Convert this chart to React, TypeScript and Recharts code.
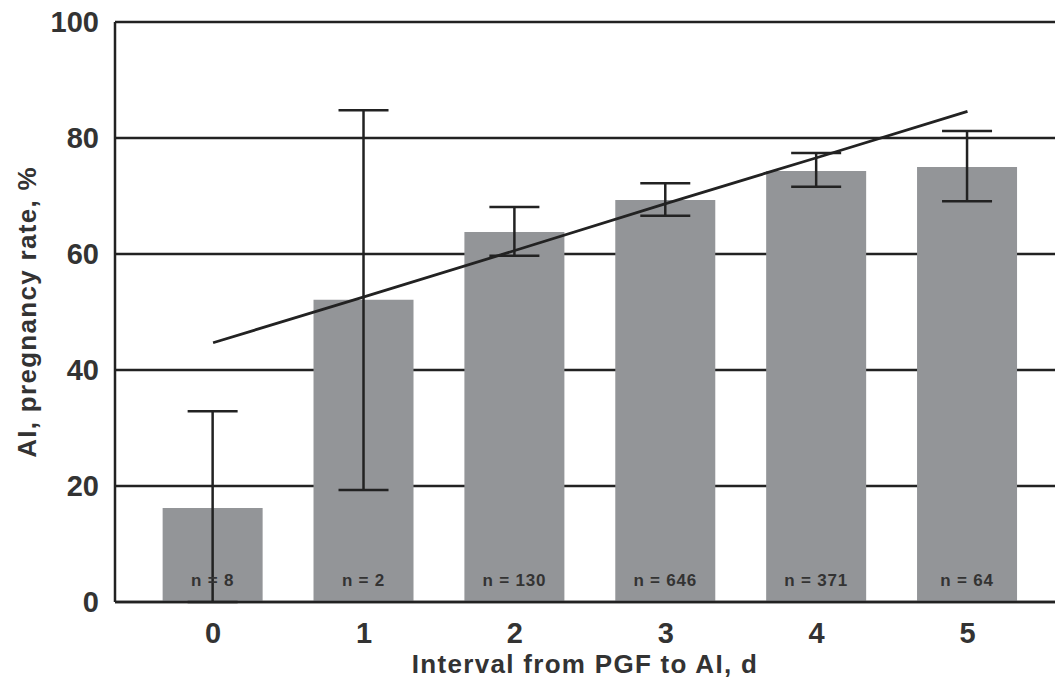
import { ComposedChart, XAxis, YAxis, CartesianGrid, Bar, Line, ErrorBar, LabelList, Label } from 'recharts'

const intervals = [0, 1, 2, 3, 4, 5]
const rates = [16.2, 52.1, 63.8, 69.3, 74.3, 75.0]
const errLow = [16.2, 32.8, 4.1, 2.7, 2.7, 5.9]
const errHigh = [16.7, 32.7, 4.3, 2.9, 3.1, 6.2]
const trend = [44.7, 52.6, 60.6, 68.7, 76.6, 84.6]
const counts = ['n = 8', 'n = 2', 'n = 130', 'n = 646', 'n = 371', 'n = 64']
const yTicks = [0, 20, 40, 60, 80, 100]

const data = intervals.map((d, i) => ({
  d,
  rate: rates[i],
  err: [errLow[i], errHigh[i]],
  trend: trend[i],
  n: counts[i],
}))

const font = '"Liberation Sans", Arial, sans-serif'
const ink = '#333'
const line = '#222'

const CountLabel = (props: any) => {
  const { x, width, y, height, value } = props
  return (
    <text
      x={x + width / 2}
      y={y + height - 16}
      textAnchor="middle"
      fontFamily={font}
      fontWeight="bold"
      fontSize={17}
      letterSpacing={0.8}
      fill={ink}
    >
      {value}
    </text>
  )
}

const App = () => {
  return (
    <div style={{ position: 'absolute', left: 0, top: 0, background: '#fff' }}>
      <ComposedChart width={1055} height={681} data={data} margin={{ top: 22, right: 0, left: 0, bottom: 0 }}>
        <CartesianGrid vertical={false} stroke={line} strokeWidth={2.5} />
        <XAxis
          dataKey="d"
          type="number"
          domain={[-0.65, 5.58]}
          ticks={intervals}
          allowDataOverflow
          height={79}
          tickLine={false}
          axisLine={{ stroke: line, strokeWidth: 2.5 }}
          tickMargin={14}
          tick={{ fill: ink, fontSize: 29, fontWeight: 'bold', fontFamily: font }}
        >
          <Label
            value="Interval from PGF to AI, d"
            position="insideBottom"
            offset={8}
            style={{ fill: ink, fontSize: 26, fontWeight: 'bold', fontFamily: font, letterSpacing: 1.3 }}
          />
        </XAxis>
        <YAxis
          width={115}
          domain={[0, 100]}
          ticks={yTicks}
          tickLine={false}
          axisLine={{ stroke: line, strokeWidth: 2.5 }}
          tickMargin={10}
          tick={{ fill: ink, fontSize: 29, fontWeight: 'bold', fontFamily: font }}
        >
          <Label
            value="AI, pregnancy rate, %"
            angle={-90}
            position="insideLeft"
            offset={27}
            style={{ textAnchor: 'middle', fill: ink, fontSize: 26, fontWeight: 'bold', fontFamily: font, letterSpacing: 1.3 }}
          />
        </YAxis>
        <Bar dataKey="rate" fill="#939598" barSize={100} isAnimationActive={false}>
          <ErrorBar dataKey="err" width={25} stroke={line} strokeWidth={2.5} />
          <LabelList dataKey="n" content={CountLabel} />
        </Bar>
        <Line dataKey="trend" stroke={line} strokeWidth={2.8} dot={false} activeDot={false} isAnimationActive={false} />
      </ComposedChart>
    </div>
  )
}

export default App
